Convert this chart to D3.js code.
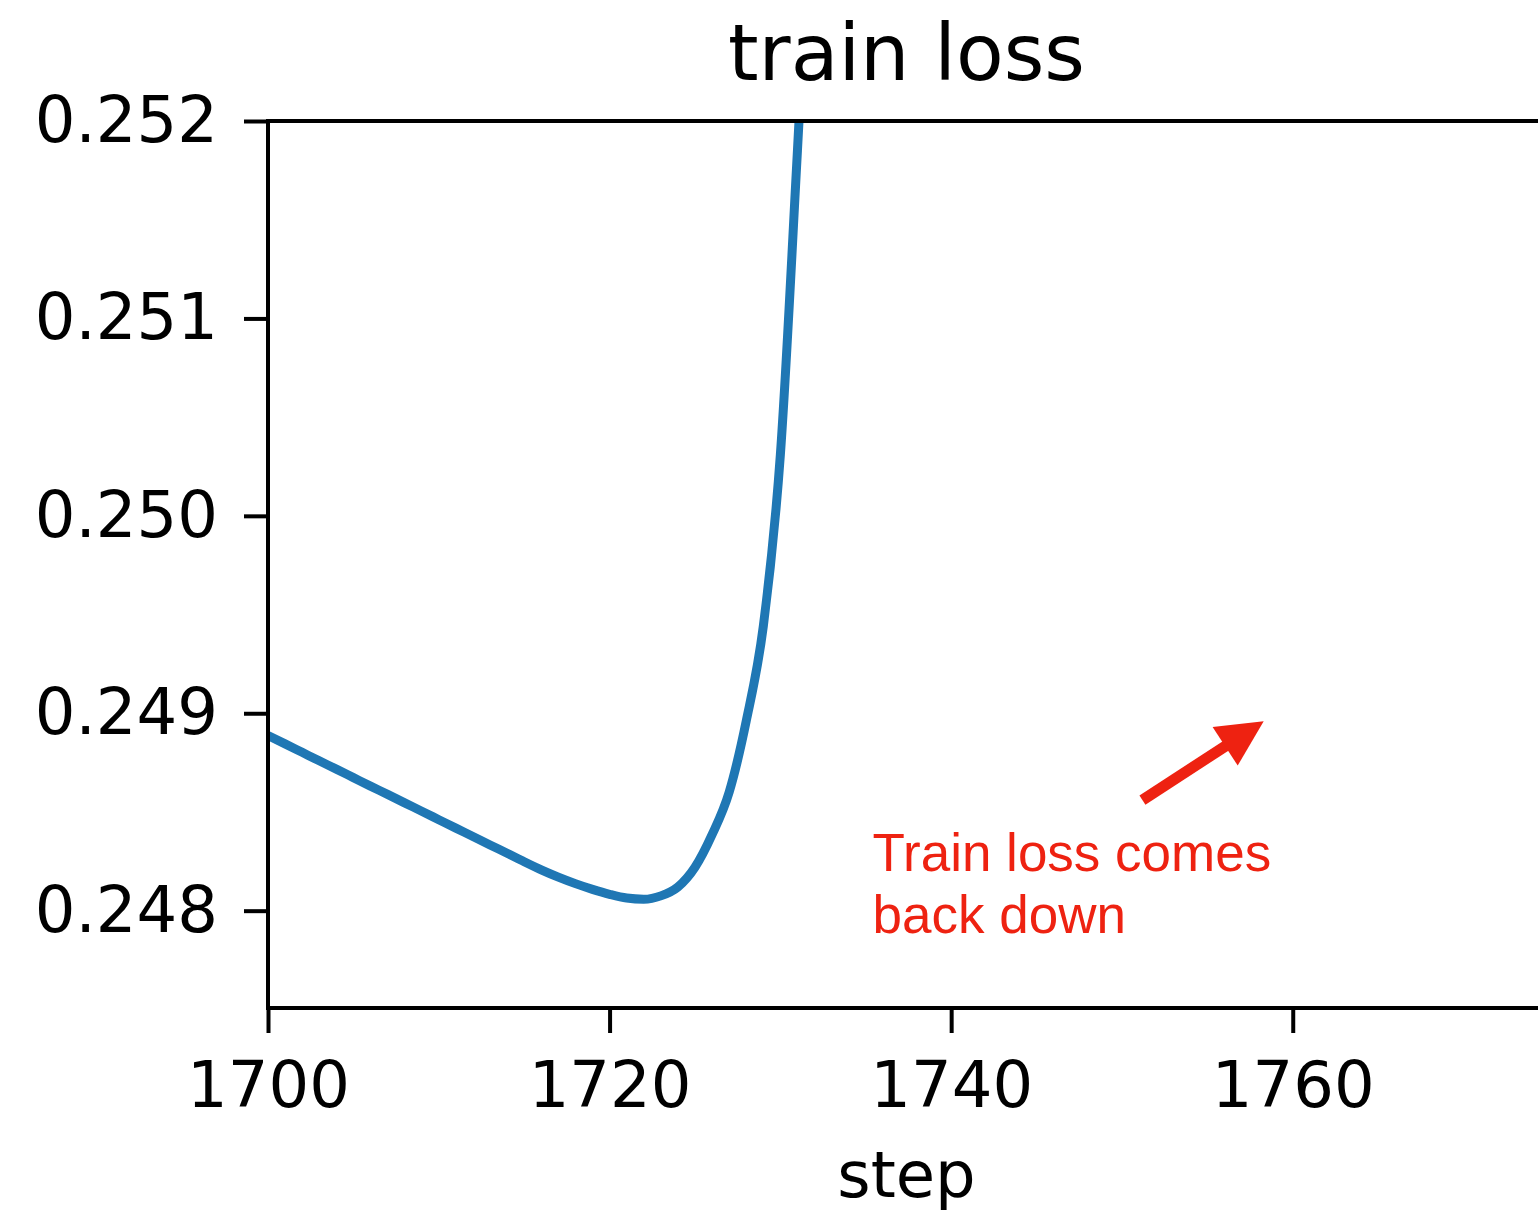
<!DOCTYPE html>
<html>
<head>
<meta charset="utf-8">
<script src="https://cdn.jsdelivr.net/npm/d3@7"></script>
<style>
  html, body { margin: 0; padding: 0; background: #fff; }
  svg { display: block; }
</style>
</head>
<body>
<div id="chart"></div>
<script>
  const steps = [1700, 1701, 1702, 1703, 1704, 1705, 1706, 1707, 1708, 1709,
    1710, 1711, 1712, 1713, 1714, 1715, 1716, 1717, 1718, 1719,
    1720, 1721, 1722, 1723, 1724, 1725, 1726, 1727, 1728, 1729,
    1730, 1731, 1732];
  const trainLoss = [0.248887, 0.248845, 0.248802, 0.248759, 0.248717, 0.248674, 0.248631, 0.248589, 0.248546, 0.248504,
    0.248461, 0.248418, 0.248376, 0.248333, 0.248291, 0.248248, 0.248207, 0.248170, 0.248137, 0.248108,
    0.248083, 0.248064, 0.248058, 0.248075, 0.248120, 0.248220, 0.248385, 0.248600, 0.248960, 0.249440,
    0.250310, 0.251850, 0.253500];

  const xTicks = [1700, 1720, 1740, 1760];
  const yTicks = [0.248, 0.249, 0.250, 0.251, 0.252];

  // annotation (data coords)
  const arrowFrom = [1751.2, 0.24856];
  const arrowTo = [1758.3, 0.24896];
  const noteLines = ['Train loss comes', 'back down'];
  const noteAt = [1735.4, 0.24820];

  const W = 1538, H = 1215;
  const MARGIN = { top: 121, left: 268, bottom: 207 };
  const plotRight = 1545;
  const innerW = plotRight - MARGIN.left;
  const innerH = H - MARGIN.top - MARGIN.bottom;

  const svg = d3.select('#chart').append('svg')
    .attr('width', W)
    .attr('height', H)
    .style('font-family', 'DejaVu Sans, sans-serif');

  const g = svg.append('g')
    .attr('transform', `translate(${MARGIN.left},${MARGIN.top})`);

  const x = d3.scaleLinear().domain([1700, 1774.77]).range([0, innerW]);
  const y = d3.scaleLinear().domain([0.247507, 0.252]).range([innerH, 0]);

  g.append('clipPath').attr('id', 'plot-clip')
    .append('rect').attr('width', innerW).attr('height', innerH);

  // Line
  const line = d3.line()
    .x((d, i) => x(steps[i]))
    .y(d => y(d))
    .curve(d3.curveMonotoneX);

  g.append('path')
    .datum(trainLoss)
    .attr('clip-path', 'url(#plot-clip)')
    .attr('d', line)
    .attr('fill', 'none')
    .attr('stroke', '#1f77b4')
    .attr('stroke-width', 9)
    .attr('stroke-linejoin', 'round')
    .attr('stroke-linecap', 'square');

  // Axes
  const xAxis = g.append('g')
    .attr('transform', `translate(0,${innerH})`)
    .call(d3.axisBottom(x).tickValues(xTicks).tickFormat(d3.format('d')).tickSize(25).tickPadding(29).tickSizeOuter(0));

  const yAxis = g.append('g')
    .call(d3.axisLeft(y).tickValues(yTicks).tickFormat(d3.format('.3f')).tickSize(24).tickPadding(26).tickSizeOuter(0));

  [xAxis, yAxis].forEach(ax => {
    ax.select('.domain').remove();
    ax.selectAll('.tick line').attr('stroke', '#000').attr('stroke-width', 4);
    ax.selectAll('.tick text')
      .attr('fill', '#000')
      .style('font-family', 'DejaVu Sans, sans-serif')
      .style('font-size', '64px');
  });

  // Spines
  const spines = [
    [0, 0, 0, innerH],
    [0, innerH, innerW, innerH],
    [0, 0, innerW, 0],
    [innerW, 0, innerW, innerH]
  ];
  g.selectAll('line.spine')
    .data(spines)
    .enter()
    .append('line')
    .attr('class', 'spine')
    .attr('x1', d => d[0]).attr('y1', d => d[1])
    .attr('x2', d => d[2]).attr('y2', d => d[3])
    .attr('stroke', '#000')
    .attr('stroke-width', 4)
    .attr('stroke-linecap', 'square');

  // Title and axis label
  svg.append('text')
    .attr('x', MARGIN.left + innerW / 2)
    .attr('y', 80)
    .attr('text-anchor', 'middle')
    .style('font-size', '78px')
    .text('train loss');

  svg.append('text')
    .attr('x', MARGIN.left + innerW / 2)
    .attr('y', 1197)
    .attr('text-anchor', 'middle')
    .style('font-size', '64px')
    .text('step');

  // Annotation arrow
  const red = '#ee2211';
  const x0 = x(arrowFrom[0]), y0 = y(arrowFrom[1]);
  const x1 = x(arrowTo[0]), y1 = y(arrowTo[1]);
  const ang = Math.atan2(y1 - y0, x1 - x0);
  const headLen = 46, headHalf = 23;
  const bx = x1 - headLen * Math.cos(ang), by = y1 - headLen * Math.sin(ang);

  g.append('line')
    .attr('x1', x0).attr('y1', y0)
    .attr('x2', bx + 4 * Math.cos(ang)).attr('y2', by + 4 * Math.sin(ang))
    .attr('stroke', red)
    .attr('stroke-width', 11);

  g.append('polygon')
    .attr('points', [
      [x1, y1],
      [bx + headHalf * Math.sin(ang), by - headHalf * Math.cos(ang)],
      [bx - headHalf * Math.sin(ang), by + headHalf * Math.cos(ang)]
    ].map(p => p.join(',')).join(' '))
    .attr('fill', red);

  const note = g.append('text')
    .attr('x', x(noteAt[0]))
    .attr('y', y(noteAt[1]))
    .attr('fill', red)
    .style('font-family', 'Liberation Sans, Arial, sans-serif')
    .style('font-size', '53px');
  note.selectAll('tspan')
    .data(noteLines)
    .enter()
    .append('tspan')
    .attr('x', x(noteAt[0]))
    .attr('dy', (d, i) => i === 0 ? 0 : 62)
    .text(d => d);
</script>
</body>
</html>
